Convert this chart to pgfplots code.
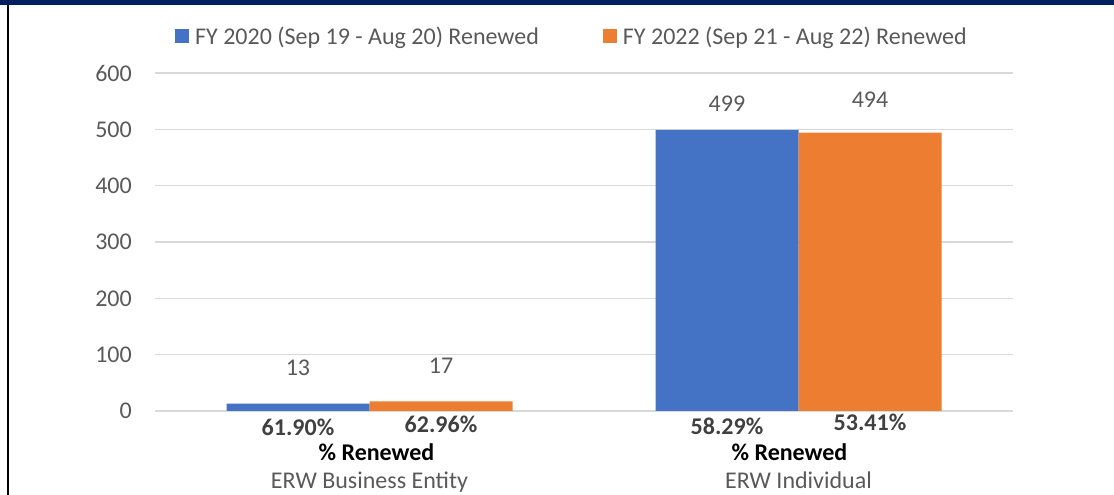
\documentclass[border=0pt]{standalone}
\usepackage{fontspec}
\setmainfont{Carlito}
\usepackage{pgfplots}
\pgfplotsset{compat=1.18}
\definecolor{cblue}{HTML}{4472C4}
\definecolor{corange}{HTML}{ED7D31}
\definecolor{cgrid}{HTML}{D9D9D9}
\definecolor{ctext}{HTML}{595959}
\definecolor{cpct}{HTML}{404040}
\definecolor{navy}{HTML}{002060}
\begin{document}
\begin{tikzpicture}[font=\fontsize{24pt}{28pt}\selectfont]
\path[use as bounding box] (0pt,0pt) rectangle (1114pt,495pt);
\fill[navy] (0pt,489.5pt) rectangle (1114pt,495pt);
\fill[black] (6.5pt,0pt) rectangle (8.7pt,490pt);
\begin{axis}[
  at={(155pt,84pt)}, anchor=south west,
  scale only axis, width=858pt, height=338pt,
  xmin=-0.5, xmax=1.5, ymin=0, ymax=600,
  ytick={0,100,...,600},
  xtick={0,1}, xticklabels={ERW Business Entity, ERW Individual},
  axis line style={draw=none},
  major tick length=0pt,
  ymajorgrids, grid style={cgrid, line width=1.3pt},
  tick label style={font=\fontsize{24pt}{28pt}\selectfont, text=ctext},
  /pgf/number format/assume math mode=true,
  yticklabel style={inner sep=0pt, xshift=-23pt},
  xticklabel style={inner sep=0pt, anchor=base, yshift=-78pt},
  clip=false,
  legend columns=2,
  legend style={at={(0.0233,1.1095)}, anchor=west, draw=none, fill=none,
    inner sep=0pt, text=ctext, font=\fontsize{24pt}{28pt}\selectfont,
    nodes={inner sep=0pt},
    /tikz/every odd column/.append style={column sep=6pt},
    /tikz/every even column/.append style={column sep=64pt}},
]
\addplot[ybar, bar width=143pt, bar shift=-71.5pt, fill=cblue, draw=none,
  legend image code/.code={\fill[cblue] (0pt,-7pt) rectangle (14pt,7pt);}]
  coordinates {(0,13) (1,499)};
\addlegendentry{FY 2020 (Sep 19 - Aug 20) Renewed}
\addplot[ybar, bar width=143pt, bar shift=71.5pt, fill=corange, draw=none,
  legend image code/.code={\fill[corange] (0pt,-7pt) rectangle (14pt,7pt);}]
  coordinates {(0,17) (1,494)};
\addlegendentry{FY 2022 (Sep 21 - Aug 22) Renewed}
% data labels
\node[text=ctext] at (axis cs:-0.1667,76.3) {13};
\node[text=ctext] at (axis cs:0.1667,79.9) {17};
\node[text=ctext] at (axis cs:0.8333,545) {499};
\node[text=ctext] at (axis cs:1.1667,552) {494};
% percentages
\node[text=cpct, font=\fontsize{24pt}{28pt}\selectfont\bfseries] at (axis cs:-0.1667,-28.4) {61.90\%};
\node[text=cpct, font=\fontsize{24pt}{28pt}\selectfont\bfseries] at (axis cs:0.1667,-23.1) {62.96\%};
\node[text=cpct, font=\fontsize{24pt}{28pt}\selectfont\bfseries] at (axis cs:0.8333,-26.6) {58.29\%};
\node[text=cpct, font=\fontsize{24pt}{28pt}\selectfont\bfseries] at (axis cs:1.1667,-19.5) {53.41\%};
\node[text=black, font=\fontsize{24pt}{28pt}\selectfont\bfseries] at (axis cs:0.0163,-72.8) {\% Renewed};
\node[text=black, font=\fontsize{24pt}{28pt}\selectfont\bfseries] at (axis cs:0.979,-72.8) {\% Renewed};
\end{axis}
\end{tikzpicture}
\end{document}
